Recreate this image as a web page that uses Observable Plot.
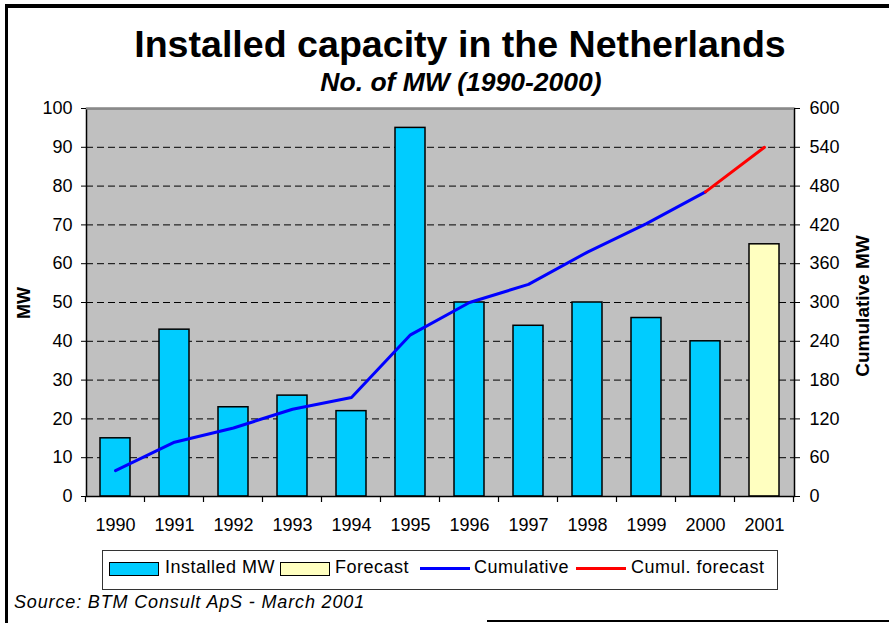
<!DOCTYPE html>
<html>
<head>
<meta charset="utf-8">
<script src="https://cdn.jsdelivr.net/npm/d3@7"></script>
<script src="https://cdn.jsdelivr.net/npm/@observablehq/plot@0.6"></script>
<style>
  html, body { margin: 0; padding: 0; background: #fff; }
  body { font-family: "Liberation Sans", Arial, sans-serif; color: #000; }
  #wrap { position: relative; width: 889px; height: 623px; overflow: hidden; background: #fff; }
  .abs { position: absolute; white-space: nowrap; line-height: 1; }
  #chart { position: absolute; left: 0; top: 0; }
  .leg { font-size: 18px; letter-spacing: 0.5px; }
</style>
</head>
<body>
<div id="wrap">
  <div class="abs" style="left:5px;top:4px;width:900px;height:700px;border-top:4px solid #000;border-left:3px solid #000;box-sizing:border-box;"></div>
  <div class="abs" style="left:487px;top:620px;width:402px;height:2px;background:#000;"></div>
  <div id="title" class="abs" style="left:60px;width:800px;top:26px;text-align:center;font-weight:bold;font-size:37.6px;"></div>
  <div id="subtitle" class="abs" style="left:61px;width:800px;top:69px;text-align:center;font-weight:bold;font-style:italic;font-size:26.5px;"></div>
  <div id="chart"></div>
  <div id="ylabel" class="abs" style="left:24px;top:303px;font-weight:bold;font-size:18px;transform:translate(-50%,-50%) rotate(-90deg);"></div>
  <div id="y2label" class="abs" style="left:862px;top:306px;font-weight:bold;font-size:19px;transform:translate(-50%,-50%) rotate(-90deg);"></div>
  <div id="legend"></div>
  <div id="source" class="abs" style="left:14px;top:593px;font-style:italic;font-size:18px;letter-spacing:0.85px;"></div>
</div>
<script>
// ---- data ----
const titleText = "Installed capacity in the Netherlands";
const subtitleText = "No. of MW (1990-2000)";
const yLabel = "MW";
const y2Label = "Cumulative MW";
const sourceText = "Source: BTM Consult ApS - March 2001";

const years = ["1990","1991","1992","1993","1994","1995","1996","1997","1998","1999","2000","2001"];
const installedYears = ["1990","1991","1992","1993","1994","1995","1996","1997","1998","1999","2000"];
const installedMW = [15, 43, 23, 26, 22, 95, 50, 44, 50, 46, 40];
const forecastYears = ["2001"];
const forecastMW = [65];
const cumulativeYears = ["1990","1991","1992","1993","1994","1995","1996","1997","1998","1999","2000"];
const cumulativeMW = [40, 84, 106, 135, 153, 250, 300, 328, 378, 422, 471];
const cumulForecastYears = ["2000","2001"];
const cumulForecastMW = [471, 540];

const leftTicks = [0,10,20,30,40,50,60,70,80,90,100];
const rightTicks = [0,60,120,180,240,300,360,420,480,540,600];
const gridTicks = [10,20,30,40,50,60,70,80,90];
const leftMax = 100, rightMax = 600;
const ratio = rightMax / leftMax;

const legendItems = ["Installed MW", "Forecast", "Cumulative", "Cumul. forecast"];

// ---- colors ----
const cyan = "#00CCFF", yellow = "#FFFFC0", blue = "#0000FF", red = "#FF0000", plotBg = "#C0C0C0";

// ---- text ----
document.getElementById("title").textContent = titleText;
document.getElementById("subtitle").textContent = subtitleText;
document.getElementById("ylabel").textContent = yLabel;
document.getElementById("y2label").textContent = y2Label;
document.getElementById("source").textContent = sourceText;

const installed = installedYears.map((y, i) => ({year: y, mw: installedMW[i]}));
const forecast = forecastYears.map((y, i) => ({year: y, mw: forecastMW[i]}));
const cumul = cumulativeYears.map((y, i) => ({year: y, v: cumulativeMW[i] / ratio}));
const cumulF = cumulForecastYears.map((y, i) => ({year: y, v: cumulForecastMW[i] / ratio}));

const chart = Plot.plot({
  width: 889,
  height: 545,
  marginTop: 108,
  marginBottom: 49,
  marginLeft: 86,
  marginRight: 95,
  style: {fontFamily: "'Liberation Sans', Arial, sans-serif", fontSize: "18px", color: "#000", background: "transparent", overflow: "visible"},
  x: {type: "band", domain: years, paddingInner: 0.49, paddingOuter: 0.245, axis: null},
  y: {domain: [0, leftMax], axis: null},
  marks: [
    Plot.frame({fill: plotBg, stroke: null}),
    Plot.ruleY(gridTicks, {stroke: "#000", strokeWidth: 1, strokeDasharray: "7,4"}),
    Plot.barY(installed, {x: "year", y: "mw", fill: cyan, stroke: "#000", strokeWidth: 1.5}),
    Plot.barY(forecast, {x: "year", y: "mw", fill: yellow, stroke: "#000", strokeWidth: 1.5}),
    Plot.line(cumul, {x: "year", y: "v", stroke: blue, strokeWidth: 3, strokeLinejoin: "round"}),
    Plot.line(cumulF, {x: "year", y: "v", stroke: red, strokeWidth: 3}),
    Plot.frame({stroke: "#000", strokeWidth: 1.5}),
    Plot.ruleY([leftMax], {stroke: "#8a8a8a", strokeWidth: 2}),
    Plot.axisY(leftTicks, {anchor: "left", tickSize: 5, tickPadding: 9, fontSize: 18, label: null, stroke: "#000"}),
    Plot.axisY(leftTicks, {anchor: "right", tickSize: 5, tickPadding: 10, fontSize: 18, label: null, stroke: "#000",
      tickFormat: d => String(rightTicks[leftTicks.indexOf(d)])}),
    Plot.axisX({anchor: "bottom", tickSize: 0, tickPadding: 22, fontSize: 18, label: null})
  ]
});
document.getElementById("chart").appendChild(chart);

// boundary ticks on the x axis, positioned from Plot's own x scale
const xs = chart.scale("x");
const ysScale = chart.scale("y");
const gap = (xs.step - xs.bandwidth) / 2;
const bounds = years.map(y => xs.apply(y) - gap);
bounds.push(xs.apply(years[years.length - 1]) + xs.bandwidth + gap);
const y0 = ysScale.apply(0);
d3.select(chart).append("g")
  .attr("stroke", "#000").attr("stroke-width", 1.2)
  .selectAll("line").data(bounds).join("line")
  .attr("x1", d => d).attr("x2", d => d)
  .attr("y1", y0).attr("y2", y0 + 6);

// ---- legend ----
const legend = document.getElementById("legend");
legend.innerHTML = `
  <div class="abs" style="left:102px;top:550px;width:676px;height:40px;border:1px solid #333;box-sizing:border-box;"></div>
  <div class="abs" style="left:109px;top:562px;width:50px;height:14px;background:${cyan};border:1.5px solid #000;box-sizing:border-box;"></div>
  <div class="abs leg" style="left:165px;top:558px;">${legendItems[0]}</div>
  <div class="abs" style="left:280px;top:562px;width:50px;height:14px;background:${yellow};border:1.5px solid #000;box-sizing:border-box;"></div>
  <div class="abs leg" style="left:335px;top:558px;">${legendItems[1]}</div>
  <div class="abs" style="left:420px;top:567px;width:50px;height:3px;background:${blue};"></div>
  <div class="abs leg" style="left:474px;top:558px;">${legendItems[2]}</div>
  <div class="abs" style="left:576px;top:567px;width:50px;height:3px;background:${red};"></div>
  <div class="abs leg" style="left:631px;top:558px;">${legendItems[3]}</div>
`;
</script>
</body>
</html>
